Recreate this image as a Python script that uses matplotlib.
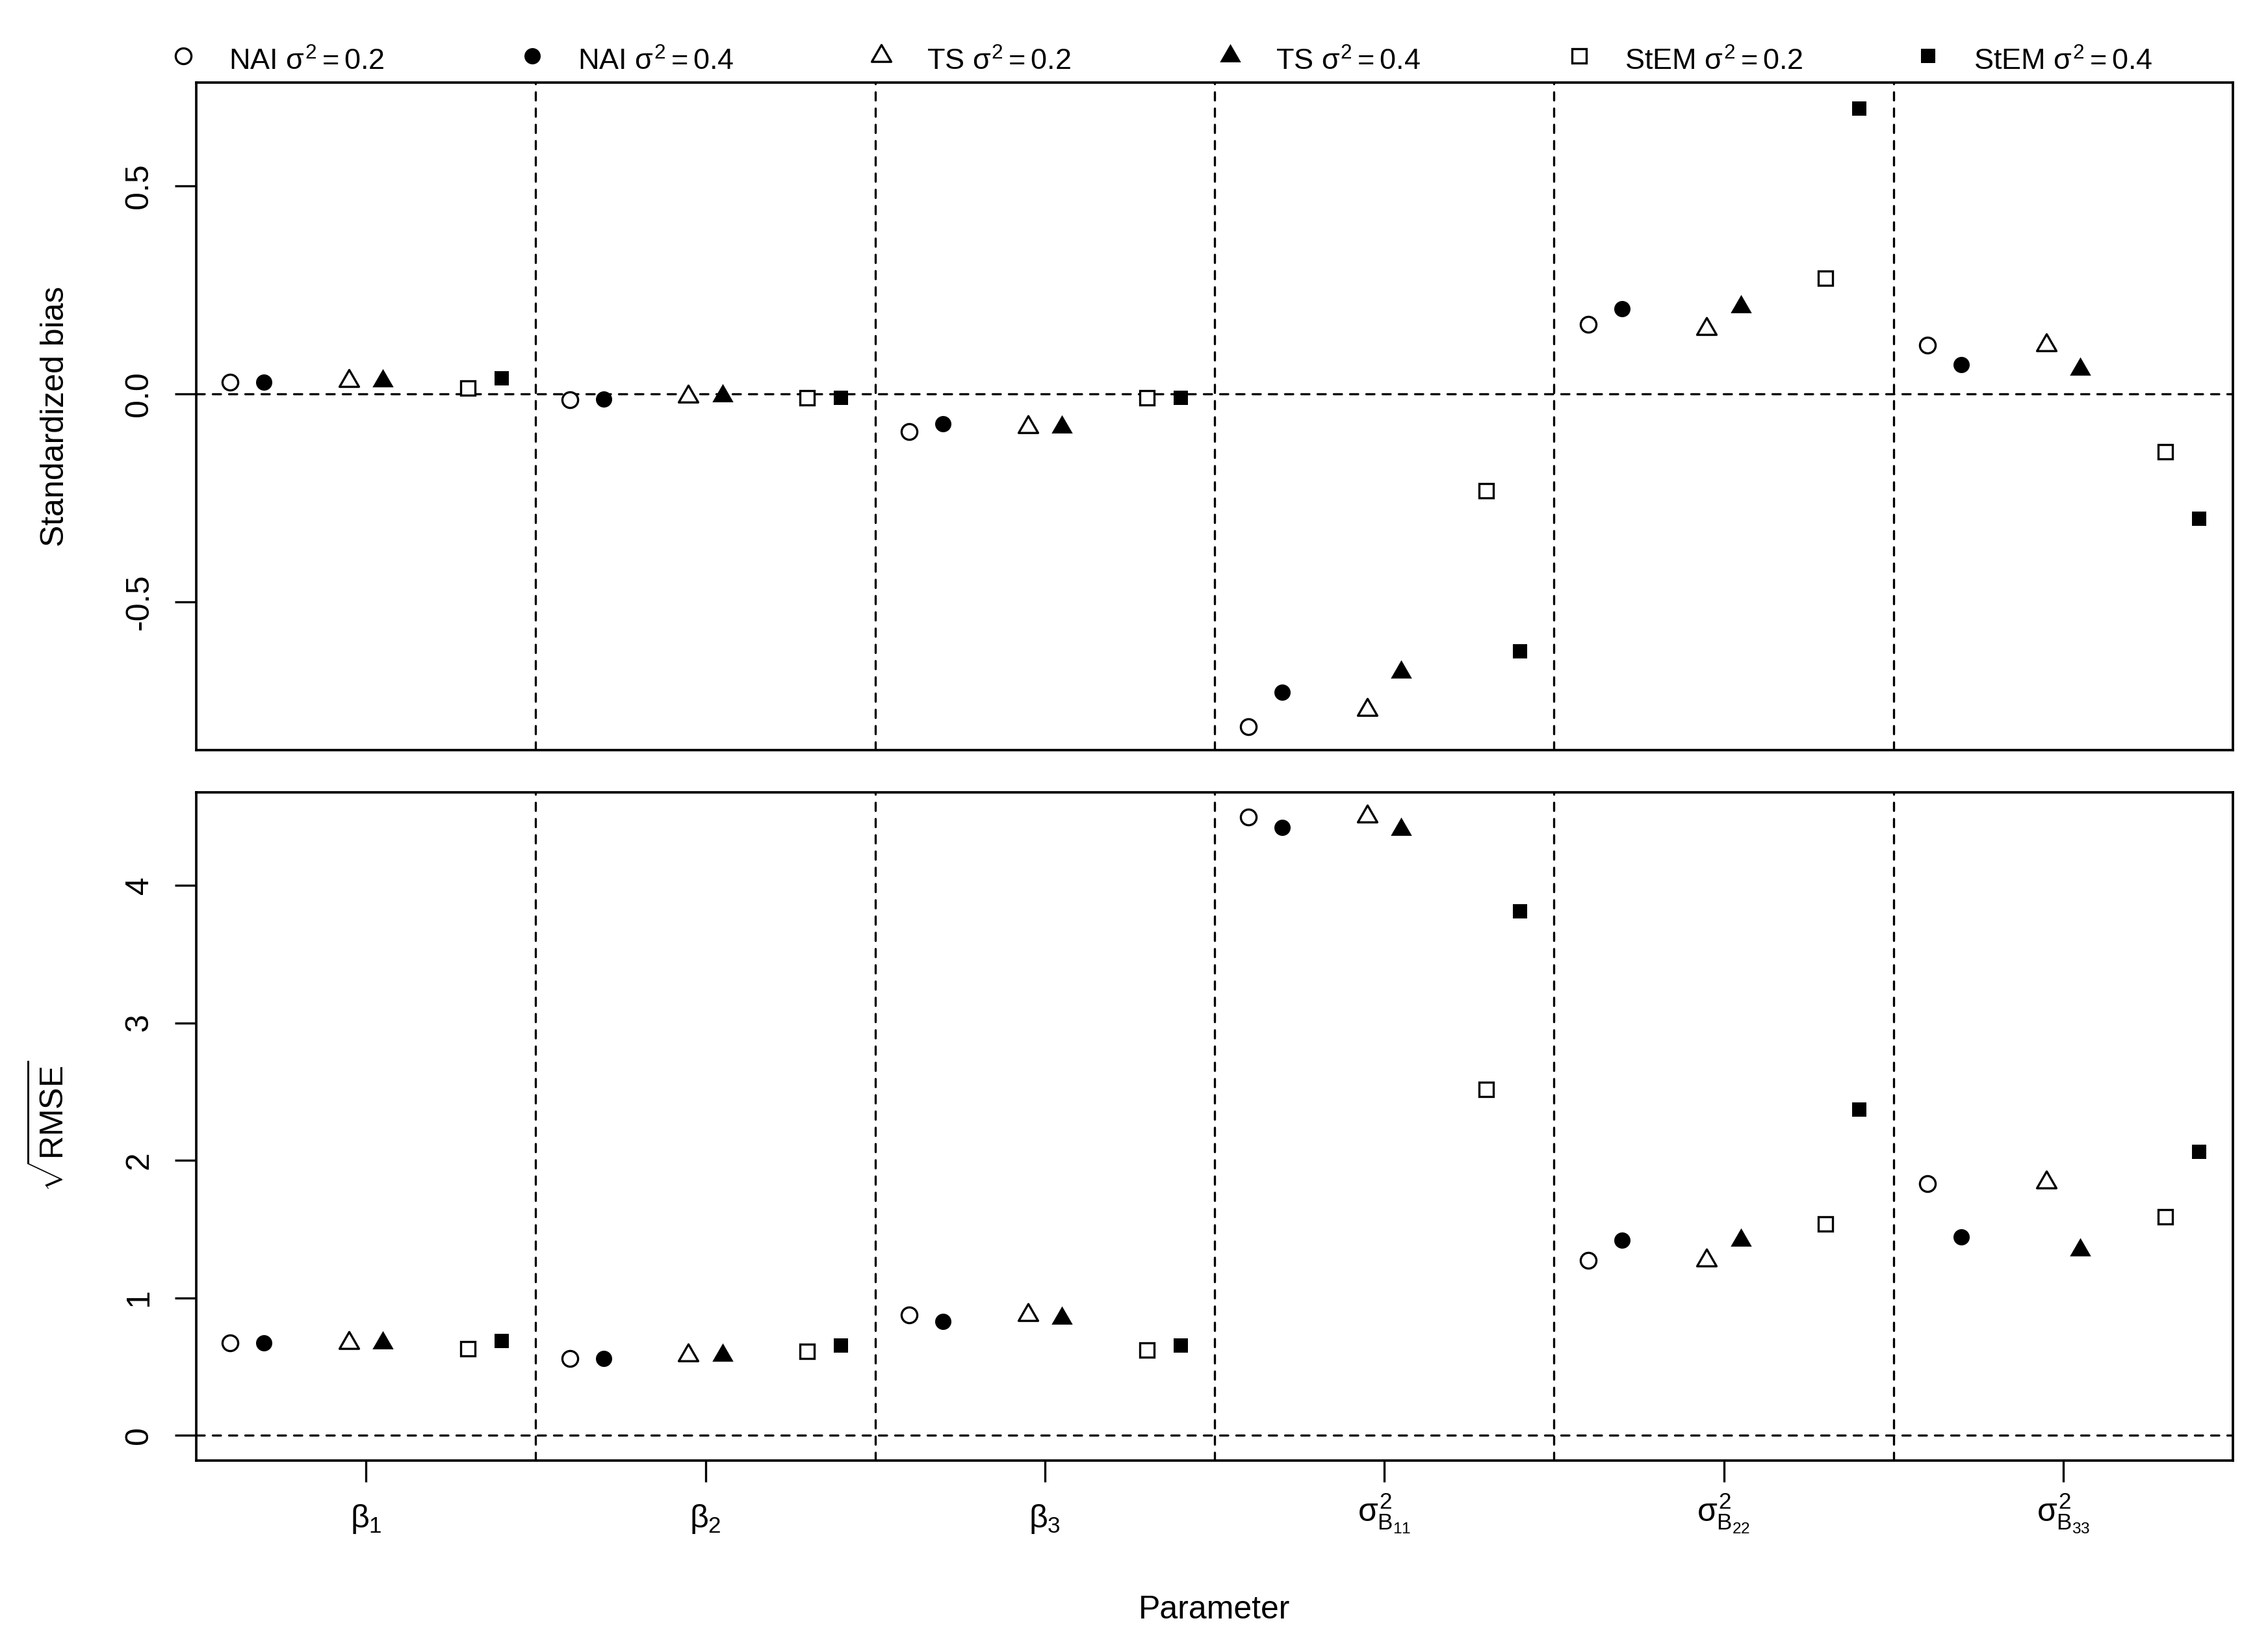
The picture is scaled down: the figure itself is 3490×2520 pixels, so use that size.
import matplotlib
matplotlib.use("Agg")
import matplotlib.pyplot as plt
from matplotlib.lines import Line2D
from matplotlib.path import Path

plt.rcParams['font.family'] = ['Liberation Sans', 'DejaVu Sans']
plt.rcParams['mathtext.fontset'] = 'custom'
plt.rcParams['mathtext.rm'] = 'Liberation Sans'
plt.rcParams['mathtext.it'] = 'Liberation Sans'
plt.rcParams['mathtext.bf'] = 'Liberation Sans:bold'
plt.rcParams['axes.unicode_minus'] = False
plt.rcParams['lines.scale_dashes'] = False

# parameters on the x axis
params = [r'$\beta_1$', r'$\beta_2$', r'$\beta_3$',
          r'$\sigma^2_{B_{11}}$', r'$\sigma^2_{B_{22}}$', r'$\sigma^2_{B_{33}}$']

labels = [r'NAI $\sigma^2 = 0.2$', r'NAI $\sigma^2 = 0.4$',
          r'TS $\sigma^2 = 0.2$', r'TS $\sigma^2 = 0.4$',
          r'StEM $\sigma^2 = 0.2$', r'StEM $\sigma^2 = 0.4$']

# standardized bias, one list per method, in parameter order
bias_nai_02 = [0.028, -0.014, -0.090, -0.800, 0.167, 0.118]
bias_nai_04 = [0.028, -0.012, -0.072, -0.718, 0.205, 0.070]
bias_ts_02 = [0.032, -0.007, -0.080, -0.760, 0.157, 0.118]
bias_ts_04 = [0.032, -0.005, -0.080, -0.669, 0.209, 0.059]
bias_stem_02 = [0.014, -0.010, -0.010, -0.233, 0.278, -0.139]
bias_stem_04 = [0.038, -0.010, -0.010, -0.620, 0.686, -0.300]

# sqrt RMSE
rmse_nai_02 = [0.674, 0.558, 0.874, 4.497, 1.274, 1.830]
rmse_nai_04 = [0.674, 0.558, 0.830, 4.420, 1.420, 1.440]
rmse_ts_02 = [0.674, 0.580, 0.874, 4.500, 1.270, 1.840]
rmse_ts_04 = [0.674, 0.580, 0.853, 4.405, 1.420, 1.350]
rmse_stem_02 = [0.630, 0.610, 0.620, 2.516, 1.537, 1.590]
rmse_stem_04 = [0.684, 0.653, 0.653, 3.810, 2.370, 2.060]

bias = [bias_nai_02, bias_nai_04, bias_ts_02, bias_ts_04, bias_stem_02, bias_stem_04]
rmse = [rmse_nai_02, rmse_nai_04, rmse_ts_02, rmse_ts_04, rmse_stem_02, rmse_stem_04]

offsets = [-0.4, -0.3, -0.05, 0.05, 0.3, 0.4]

# R-like triangle (centred on its centroid)
tri = Path([(0, 1.155), (-1, -0.577), (1, -0.577), (0, 1.155)], closed=True)

styles = [
    dict(marker='o', ms=5.8, mfc='white', mec='black', mew=0.8),
    dict(marker='o', ms=6.0, mfc='black', mec='black', mew=0),
    dict(marker=tri, ms=8.3, mfc='white', mec='black', mew=0.8),
    dict(marker=tri, ms=9.0, mfc='black', mec='black', mew=0),
    dict(marker='s', ms=5.1, mfc='white', mec='black', mew=0.8),
    dict(marker='s', ms=5.35, mfc='black', mec='black', mew=0),
]

W, H = 3490, 2520
fig = plt.figure(figsize=(W / 300, H / 300), dpi=300)
ax1 = fig.add_axes([302 / W, 1 - 1154 / H, 3134 / W, 1027 / H])
ax2 = fig.add_axes([302 / W, 1 - 2247 / H, 3134 / W, 1028 / H])

pos = list(range(1, len(params) + 1))
dash = (0, (3, 3))

for ax, vals in [(ax1, bias), (ax2, rmse)]:
    for i in range(6):
        x = [p + offsets[i] for p in pos]
        ax.plot(x, vals[i], ls='none', zorder=3, **styles[i])
    for b in [1.5, 2.5, 3.5, 4.5, 5.5]:
        ax.axvline(b, color='black', lw=0.8, ls=dash, dash_capstyle='round')
    ax.axhline(0, color='black', lw=0.8, ls=dash, dash_capstyle='round')
    ax.set_xlim(0.5, 6.5)
    for s in ax.spines.values():
        s.set_linewidth(0.9)
    ax.tick_params(axis='y', length=8, width=0.8, pad=7.5, labelsize=12, labelrotation=90)
    ax.tick_params(axis='x', length=8, width=0.8, labelsize=12)

ax1.set_ylim(-0.857, 0.749)
ax1.set_yticks([-0.5, 0.0, 0.5], ['-0.5', '0.0', '0.5'])
ax1.tick_params(axis='x', bottom=False, labelbottom=False)

ax2.set_ylim(-0.184, 4.676)
ax2.set_yticks([0, 1, 2, 3, 4], ['0', '1', '2', '3', '4'])
ax2.set_xticks(pos, params)
ax2.tick_params(axis='x', pad=19.7)
plt.setp(ax2.get_xticklabels(), va='bottom')

for ax in (ax1, ax2):
    plt.setp(ax.get_yticklabels(), va='center')

ax1.set_ylabel('Standardized bias', fontsize=12)
ax2.set_ylabel(r'$\sqrt{\mathrm{RMSE}}$', fontsize=12)
for ax in (ax1, ax2):
    ax.yaxis.label.set_va('baseline')
    ax.yaxis.set_label_coords((98 - 302) / 3134, 0.5)

ax2.set_xlabel('Parameter', fontsize=12)
ax2.xaxis.label.set_va('baseline')
ax2.xaxis.set_label_coords(0.5, (2247 - 2490) / 1028)

# legend row above the top panel
for i in range(6):
    lx = (282 + 537 * i) / W
    fig.add_artist(Line2D([lx], [1 - 86 / H], transform=fig.transFigure, ls='none', **styles[i]))
    fig.text(lx + 70 / W, 1 - 108 / H, labels[i], fontsize=10.8, va='baseline', ha='left')

fig.savefig('out.png', dpi=300)
